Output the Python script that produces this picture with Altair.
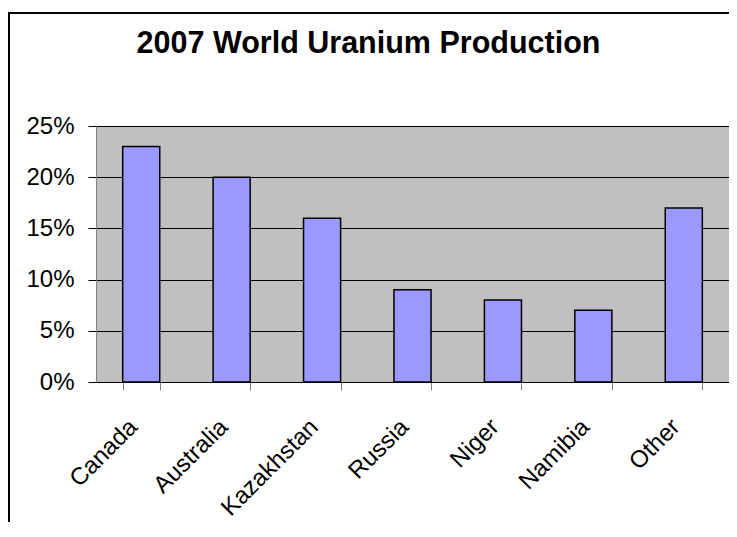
import altair as alt
import pandas as pd

categories = ["Canada", "Australia", "Kazakhstan", "Russia", "Niger", "Namibia", "Other"]
shares = [0.23, 0.20, 0.16, 0.09, 0.08, 0.07, 0.17]
y_ticks = [0, 0.05, 0.10, 0.15, 0.20, 0.25]
title_text = "2007 World Uranium Production"

df = pd.DataFrame({"country": categories, "share": shares})

W, H = 633, 256
FONT = "Liberation Sans"

bars = alt.Chart(df).mark_bar(color="#9999FF", stroke="black", strokeWidth=1.5).encode(
    x=alt.X(
        "country:N",
        sort=categories,
        scale=alt.Scale(paddingInner=0.59, paddingOuter=0.295),
        axis=alt.Axis(
            title=None, labelAngle=-45, labelAlign="right", labelBaseline="middle",
            labelFontSize=24, labelFont=FONT, labelColor="black",
            tickBand="extent", tickColor="#808080", tickSize=8,
            domainColor="black", labelPadding=33, labelOffset=-8, grid=False,
        ),
    ),
    y=alt.Y(
        "share:Q",
        scale=alt.Scale(domain=[0, 0.25], nice=False),
        axis=alt.Axis(
            title=None, values=y_ticks, format=".0%",
            labelFontSize=24, labelFont=FONT, labelColor="black",
            tickColor="black", tickSize=8, labelPadding=14,
            domainColor="#808080", gridColor="black", gridWidth=1, gridOpacity=1,
        ),
    ),
)

frame_data = alt.Data(values=[{}])
left_border = alt.Chart(frame_data).mark_rule(color="black", strokeWidth=2).encode(
    x=alt.value(-87), y=alt.value(-113), y2=alt.value(H + 200)
)
top_border = alt.Chart(frame_data).mark_rule(color="black", strokeWidth=2).encode(
    x=alt.value(-88), x2=alt.value(W + 10), y=alt.value(-113)
)

chart = alt.layer(bars, left_border, top_border).properties(
    width=W,
    height=H,
    title=alt.TitleParams(
        title_text, font=FONT, fontSize=30.5, fontWeight="bold", color="black",
        anchor="middle", frame="group", dx=-44, dy=51,
    ),
    autosize=alt.AutoSizeParams(type="none"),
    padding={"left": 88, "top": 118, "right": 0, "bottom": 140},
).configure(background="white").configure_view(
    fill="#C0C0C0", stroke="#808080", strokeWidth=1
)

chart.save("out.html", embed_options={"renderer": "svg", "actions": False})
